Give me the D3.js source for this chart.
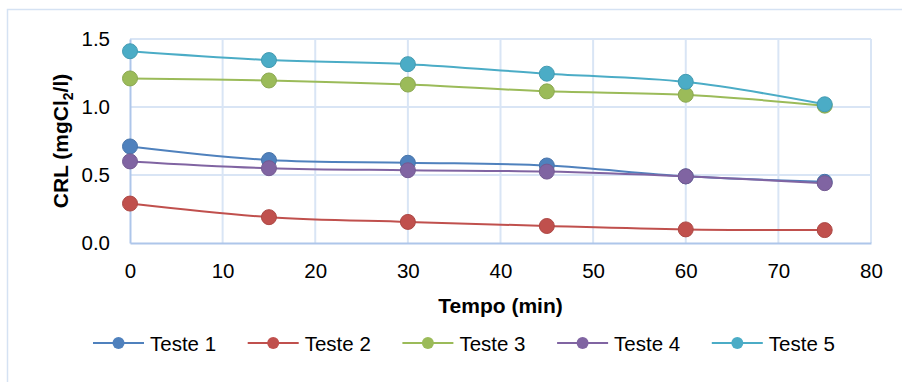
<!DOCTYPE html>
<html>
<head>
<meta charset="utf-8">
<script src="https://cdn.jsdelivr.net/npm/d3@7"></script>
<style>
  body { margin: 0; background: #fff; }
  svg { font-family: "Liberation Sans", Arial, sans-serif; }
</style>
</head>
<body>
<div id="chart"></div>
<script>
const width = 902;
const height = 382;

const tempos = [0, 15, 30, 45, 60, 75];
const seriesNames = ["Teste 1", "Teste 2", "Teste 3", "Teste 4", "Teste 5"];
const seriesColors = ["#4F81BD", "#C0504D", "#9BBB59", "#8064A2", "#4BACC6"];
const teste1 = [0.71, 0.61, 0.59, 0.57, 0.49, 0.45];
const teste2 = [0.29, 0.19, 0.155, 0.125, 0.10, 0.095];
const teste3 = [1.21, 1.195, 1.165, 1.115, 1.09, 1.01];
const teste4 = [0.60, 0.55, 0.535, 0.525, 0.49, 0.44];
const teste5 = [1.41, 1.345, 1.315, 1.245, 1.185, 1.02];
const xTicks = [0, 10, 20, 30, 40, 50, 60, 70, 80];
const yTicks = [0, 0.5, 1.0, 1.5];

const seriesValues = [teste1, teste2, teste3, teste4, teste5];

const margin = { top: 39, right: 31, bottom: 139, left: 130 };

const svg = d3.select("#chart")
  .append("svg")
  .attr("width", width)
  .attr("height", height);

// outer chart border
svg.append("rect")
  .attr("x", 7.5)
  .attr("y", 9.5)
  .attr("width", 920)
  .attr("height", 400)
  .attr("fill", "none")
  .attr("stroke", "#D5E2F3")
  .attr("stroke-width", 1.5);

const x = d3.scaleLinear()
  .domain([0, 80])
  .range([margin.left, width - margin.right]);

const y = d3.scaleLinear()
  .domain([0, 1.5])
  .range([height - margin.bottom, margin.top]);

// gridlines
svg.append("g")
  .selectAll("line")
  .data(xTicks.slice(1))
  .enter()
  .append("line")
  .attr("x1", d => x(d))
  .attr("x2", d => x(d))
  .attr("y1", y(0))
  .attr("y2", y(1.5))
  .attr("stroke", "#D9E5F5")
  .attr("stroke-width", 2);

svg.append("g")
  .selectAll("line")
  .data(yTicks.slice(1))
  .enter()
  .append("line")
  .attr("x1", x(0))
  .attr("x2", x(80))
  .attr("y1", d => y(d))
  .attr("y2", d => y(d))
  .attr("stroke", "#D9E5F5")
  .attr("stroke-width", 2);

// axes
const xAxis = svg.append("g")
  .attr("transform", `translate(0,${y(0)})`)
  .call(d3.axisBottom(x).tickValues(xTicks).tickSize(0).tickPadding(20));

const yAxis = svg.append("g")
  .attr("transform", `translate(${x(0)},0)`)
  .call(d3.axisLeft(y).tickValues(yTicks).tickFormat(d3.format(".1f")).tickSize(0).tickPadding(20));

[xAxis, yAxis].forEach(a => {
  a.select(".domain").attr("stroke", "#AEC6EA").attr("stroke-width", 2);
  a.selectAll("text")
    .attr("font-size", 20.5)
    .attr("fill", "#000")
    .style("font-family", "'Liberation Sans', Arial, sans-serif");
});

// axis titles
svg.append("text")
  .attr("x", x(40))
  .attr("y", 313)
  .attr("text-anchor", "middle")
  .attr("font-size", 21)
  .attr("font-weight", "bold")
  .text("Tempo (min)");

const yTitle = svg.append("text")
  .attr("transform", `translate(68,${y(0.75)}) rotate(-90)`)
  .attr("text-anchor", "middle")
  .attr("font-size", 21)
  .attr("font-weight", "bold");
yTitle.append("tspan").text("CRL (mgCl");
yTitle.append("tspan").attr("font-size", 14).attr("dy", 5).text("2");
yTitle.append("tspan").attr("dy", -5).text("/l)");

// series
const line = d3.line()
  .x((d, i) => x(tempos[i]))
  .y(d => y(d))
  .curve(d3.curveCatmullRom.alpha(0.5));

seriesValues.forEach((vals, k) => {
  const g = svg.append("g");
  g.append("path")
    .datum(vals)
    .attr("d", line)
    .attr("fill", "none")
    .attr("stroke", seriesColors[k])
    .attr("stroke-width", 2);

  g.selectAll("circle")
    .data(vals)
    .enter()
    .append("circle")
    .attr("cx", (d, i) => x(tempos[i]))
    .attr("cy", d => y(d))
    .attr("r", 7.5)
    .attr("fill", seriesColors[k])
    .attr("stroke", d3.color(seriesColors[k]).darker(0.3))
    .attr("stroke-width", 1);
});

// legend
const legend = svg.append("g")
  .attr("transform", "translate(93,343)");

const item = legend.selectAll("g")
  .data(seriesNames)
  .enter()
  .append("g")
  .attr("transform", (d, i) => `translate(${i * 154.7},0)`);

item.append("line")
  .attr("x1", 0)
  .attr("x2", 51)
  .attr("stroke", (d, i) => seriesColors[i])
  .attr("stroke-width", 2);

item.append("circle")
  .attr("cx", 25.5)
  .attr("r", 6)
  .attr("fill", (d, i) => seriesColors[i]);

item.append("text")
  .attr("x", 57)
  .attr("y", 8)
  .attr("font-size", 20.5)
  .text(d => d);
</script>
</body>
</html>
